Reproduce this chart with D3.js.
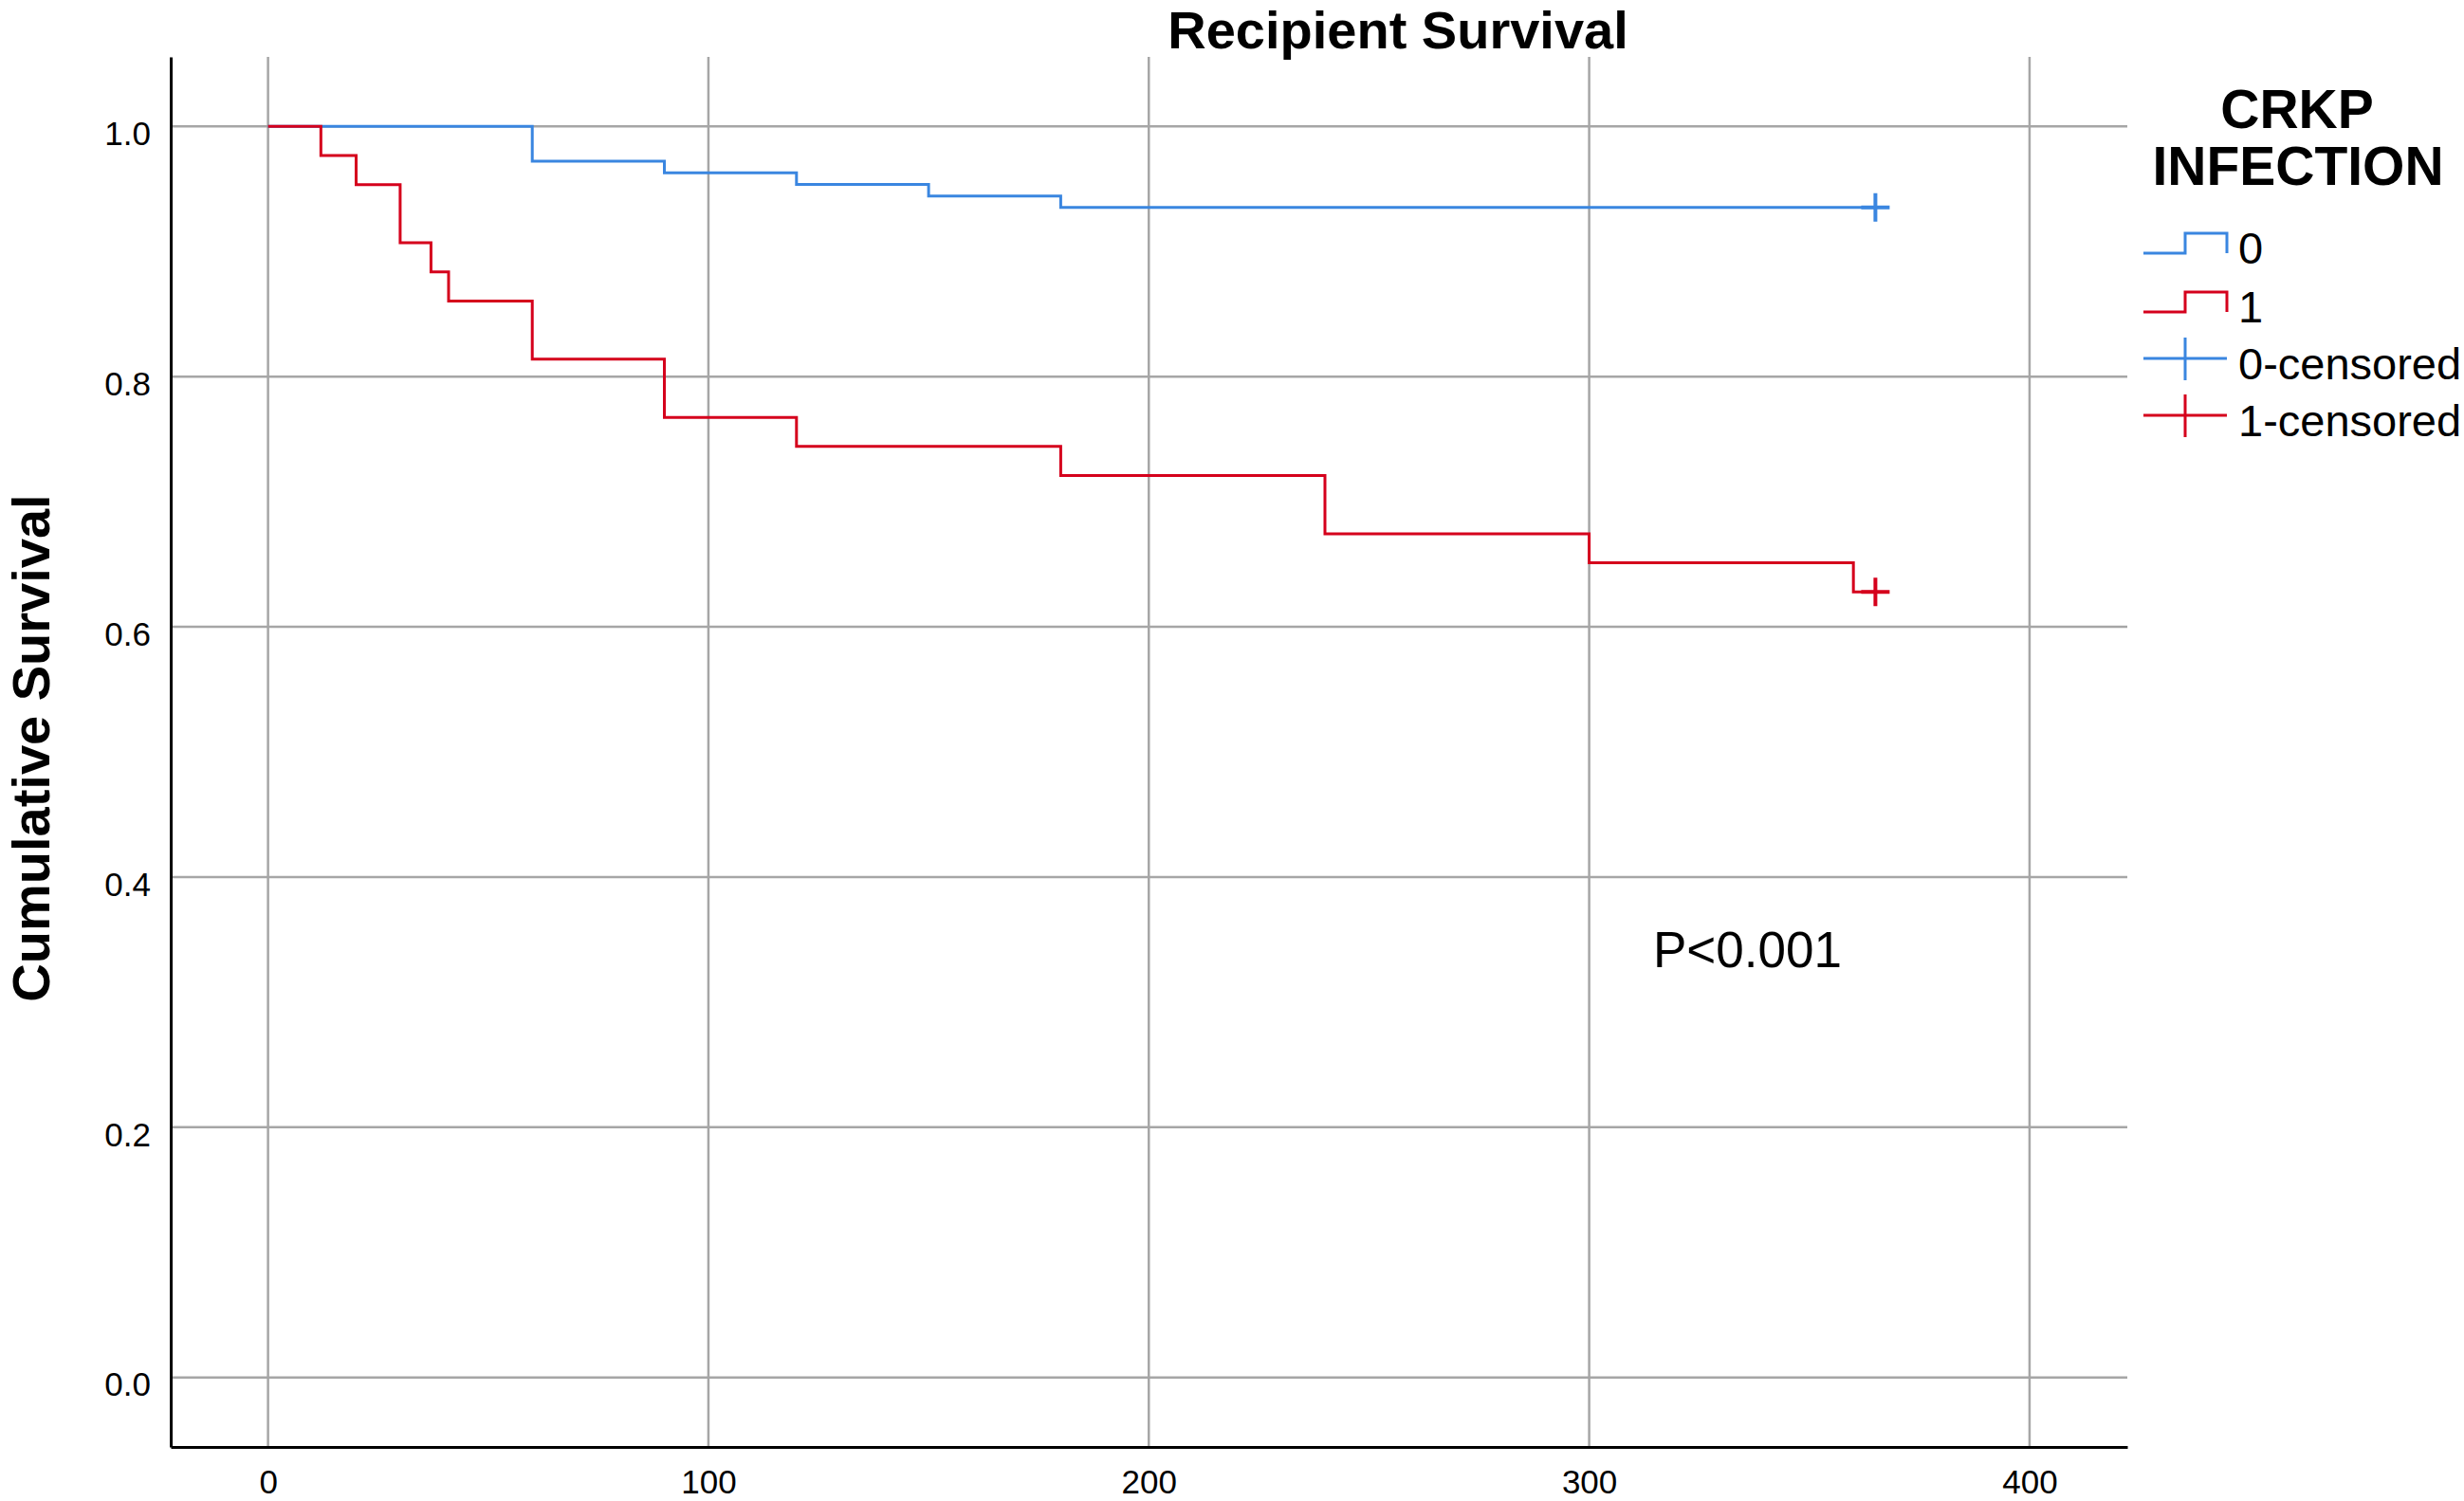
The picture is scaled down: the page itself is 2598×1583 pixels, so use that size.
<!DOCTYPE html>
<html>
<head>
<meta charset="utf-8">
<script src="https://cdn.jsdelivr.net/npm/d3@7"></script>
<style>
  body { margin: 0; background: #fff; }
  text { font-family: "Liberation Sans", Arial, sans-serif; }
</style>
</head>
<body>
<div id="chart"></div>
<script>
// --- données ---
const groups = ['0', '1'];
const days0 = [0, 60, 90, 120, 150, 180, 365];
const surv0 = [1.0, 0.9722, 0.963, 0.9537, 0.9444, 0.9352, 0.9352];
const days1 = [0, 12, 20, 30, 37, 41, 60, 90, 120, 180, 240, 300, 360, 365];
const surv1 = [1.0, 0.9767, 0.9535, 0.907, 0.8837, 0.8605, 0.814, 0.7674, 0.7442, 0.7209, 0.6744, 0.6512, 0.6279, 0.6279];
const censorDay = [365, 365];
const xTicks = [0, 100, 200, 300, 400];
const yTicks = [0.0, 0.2, 0.4, 0.6, 0.8, 1.0];
const legendLabels = ['0', '1', '0-censored', '1-censored'];
const colors = ['#3a86e0', '#d5001c'];

const width = 2598, height = 1583;
const plotLeft = 180, plotRight = 2243, plotTop = 60, plotBottom = 1526;

const svg = d3.select('#chart').append('svg')
    .attr('width', width)
    .attr('height', height);

const x = d3.scaleLinear().domain([-22.1, 422.2]).range([plotLeft, plotRight]);
const y = d3.scaleLinear().domain([-0.0556, 1.0556]).range([plotBottom, plotTop]);

// grille
svg.append('g')
    .selectAll('line')
    .data(yTicks)
    .join('line')
    .attr('x1', plotLeft).attr('x2', plotRight)
    .attr('y1', d => y(d)).attr('y2', d => y(d))
    .attr('stroke', '#a6a6a6')
    .attr('stroke-width', 2.5);

svg.append('g')
    .selectAll('line')
    .data(xTicks)
    .join('line')
    .attr('x1', d => x(d)).attr('x2', d => x(d))
    .attr('y1', plotTop).attr('y2', plotBottom)
    .attr('stroke', '#a6a6a6')
    .attr('stroke-width', 2.5);

// axes
const yAxis = svg.append('g')
    .attr('transform', `translate(${plotLeft},0)`)
    .call(d3.axisLeft(y).tickValues(yTicks).tickFormat(d3.format('.1f')).tickSize(0).tickPadding(21));
const xAxis = svg.append('g')
    .attr('transform', `translate(0,${plotBottom})`)
    .call(d3.axisBottom(x).tickValues(xTicks).tickFormat(d3.format('d')).tickSize(0).tickPadding(24));

[xAxis, yAxis].forEach(a => {
    a.select('.domain').attr('stroke', '#000').attr('stroke-width', 3);
    a.selectAll('text')
        .style('font-family', '"Liberation Sans", Arial, sans-serif')
        .style('font-size', '35px')
        .attr('fill', '#000');
});
yAxis.selectAll('text').attr('dy', '0.55em');
xAxis.selectAll('text').attr('dy', '0.71em');

// courbes de survie
const line = d3.line()
    .x(d => x(d[0]))
    .y(d => y(d[1]))
    .curve(d3.curveStepAfter);

const series = [d3.zip(days0, surv0), d3.zip(days1, surv1)];

svg.append('g')
    .selectAll('path')
    .data(series)
    .join('path')
    .attr('d', line)
    .attr('fill', 'none')
    .attr('stroke', (d, i) => colors[i])
    .attr('stroke-width', 3);

// marques de censure
const censorPts = series.map((s, i) => [censorDay[i], s[s.length - 1][1], i]);
svg.append('g')
    .selectAll('path')
    .data(censorPts)
    .join('path')
    .attr('d', d => {
        const cx = x(d[0]), cy = y(d[1]);
        return `M${cx - 15},${cy}H${cx + 15}M${cx},${cy - 15}V${cy + 15}`;
    })
    .attr('stroke', d => colors[d[2]])
    .attr('stroke-width', 4)
    .attr('fill', 'none');

// titre
svg.append('text')
    .attr('x', 1474)
    .attr('y', 51)
    .attr('text-anchor', 'middle')
    .style('font-size', '56px')
    .style('font-weight', 'bold')
    .text('Recipient Survival');

// titre de l'axe y
svg.append('text')
    .attr('transform', 'translate(52,789) rotate(-90)')
    .attr('text-anchor', 'middle')
    .style('font-size', '56px')
    .style('font-weight', 'bold')
    .text('Cumulative Survival');

// p-value
svg.append('text')
    .attr('x', 1743)
    .attr('y', 1020)
    .style('font-size', '53px')
    .text('P<0.001');

// légende
const legend = svg.append('g');
legend.append('text')
    .attr('x', 2422).attr('y', 135)
    .attr('text-anchor', 'middle')
    .style('font-size', '57px').style('font-weight', 'bold')
    .text('CRKP');
legend.append('text')
    .attr('x', 2423).attr('y', 195)
    .attr('text-anchor', 'middle')
    .style('font-size', '57px').style('font-weight', 'bold')
    .text('INFECTION');

const itemBase = [278, 340, 400, 460];
legendLabels.forEach((lab, i) => {
    const c = colors[i % 2];
    const b = itemBase[i];
    if (i < 2) {
        const lo = b - 11, hi = b - 32;
        legend.append('path')
            .attr('d', `M2260,${lo}H2304V${hi}H2348V${lo}`)
            .attr('fill', 'none').attr('stroke', c).attr('stroke-width', 3);
    } else {
        const cy = b - 22;
        legend.append('path')
            .attr('d', `M2260,${cy}H2348M2304,${cy - 22}V${cy + 23}`)
            .attr('fill', 'none').attr('stroke', c).attr('stroke-width', 3);
    }
    legend.append('text')
        .attr('x', 2360).attr('y', b)
        .style('font-size', '47px')
        .text(lab);
});
</script>
</body>
</html>
